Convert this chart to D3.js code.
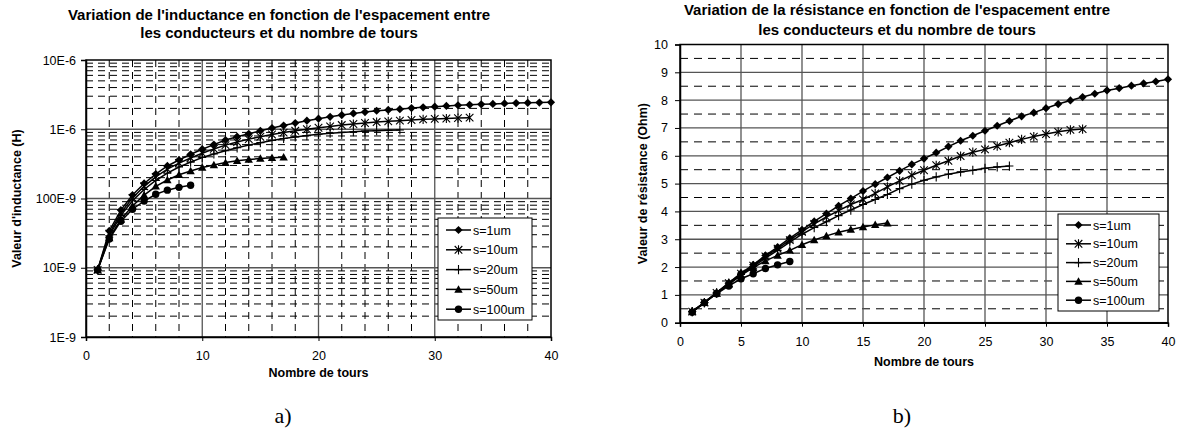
<!DOCTYPE html>
<html><head><meta charset="utf-8">
<script src="https://cdn.jsdelivr.net/npm/d3@7"></script>
<style>
body{margin:0;background:#fff}
svg{display:block}
text{font-family:"Liberation Sans",Arial,sans-serif;fill:#000}
</style>
</head><body>
<svg id="c" width="1180" height="430"></svg>
<script>
// ---------- DATA ----------
const turns = [1,2,3,4,5,6,7,8,9,10,11,12,13,14,15,16,17,18,19,20,21,22,23,24,25,26,27,28,29,30,31,32,33,34,35,36,37,38,39,40];
const seriesNames = ["s=1um","s=10um","s=20um","s=50um","s=100um"];
const markerTypes = ["diamond","star","plus","triangle","circle"];

// Inductance (H)
const ind_s1 = [9.3e-9,34e-9,68e-9,112e-9,165e-9,225e-9,295e-9,360e-9,435e-9,515e-9,600e-9,700e-9,780e-9,860e-9,950e-9,1.04e-6,1.13e-6,1.23e-6,1.33e-6,1.42e-6,1.51e-6,1.60e-6,1.69e-6,1.77e-6,1.85e-6,1.90e-6,1.95e-6,2.02e-6,2.07e-6,2.12e-6,2.17e-6,2.22e-6,2.25e-6,2.29e-6,2.32e-6,2.36e-6,2.39e-6,2.41e-6,2.43e-6,2.45e-6];
const ind_s10 = [9.3e-9,31e-9,62e-9,102e-9,150e-9,205e-9,265e-9,325e-9,385e-9,450e-9,520e-9,590e-9,655e-9,720e-9,780e-9,840e-9,895e-9,950e-9,1.0e-6,1.05e-6,1.10e-6,1.15e-6,1.19e-6,1.23e-6,1.27e-6,1.30e-6,1.33e-6,1.36e-6,1.39e-6,1.41e-6,1.43e-6,1.45e-6,1.47e-6];
const ind_s20 = [9.3e-9,29e-9,57e-9,93e-9,135e-9,182e-9,232e-9,285e-9,335e-9,390e-9,440e-9,490e-9,540e-9,590e-9,640e-9,690e-9,735e-9,775e-9,810e-9,845e-9,875e-9,900e-9,920e-9,940e-9,955e-9,965e-9,975e-9];
const ind_s50 = [9.3e-9,27e-9,50e-9,78e-9,112e-9,150e-9,185e-9,220e-9,250e-9,280e-9,305e-9,330e-9,350e-9,365e-9,378e-9,388e-9,395e-9];
const ind_s100 = [9.3e-9,26e-9,47e-9,70e-9,92e-9,115e-9,132e-9,145e-9,155e-9];

// Resistance (Ohm)
const res_s1 = [0.40,0.73,1.08,1.43,1.78,2.08,2.42,2.72,3.04,3.34,3.64,3.92,4.20,4.46,4.73,4.98,5.22,5.46,5.69,5.90,6.11,6.33,6.54,6.72,6.90,7.08,7.25,7.42,7.55,7.71,7.86,7.99,8.11,8.23,8.35,8.43,8.52,8.60,8.67,8.75];
const res_s10 = [0.40,0.72,1.07,1.42,1.76,2.05,2.38,2.66,2.97,3.27,3.55,3.80,4.03,4.25,4.43,4.65,4.88,5.10,5.30,5.48,5.66,5.82,5.99,6.13,6.23,6.35,6.47,6.59,6.69,6.78,6.86,6.93,6.96];
const res_s20 = [0.40,0.72,1.06,1.40,1.73,2.02,2.32,2.60,2.90,3.18,3.42,3.63,3.85,4.05,4.25,4.43,4.61,4.82,4.98,5.12,5.24,5.34,5.42,5.48,5.55,5.60,5.63];
const res_s50 = [0.40,0.72,1.05,1.38,1.70,1.98,2.22,2.42,2.60,2.80,2.97,3.12,3.25,3.35,3.44,3.52,3.58];
const res_s100 = [0.38,0.72,1.04,1.32,1.58,1.76,1.95,2.08,2.20];

// Axis ticks
const xTicksA = [0,10,20,30,40];
const yTicksA = [1e-9,10e-9,100e-9,1e-6,10e-6];
const yTickLabelsA = ["1E-9","10E-9","100E-9","1E-6","10E-6"];
const xTicksB = [0,5,10,15,20,25,30,35,40];
const yTicksB = [0,1,2,3,4,5,6,7,8,9,10];

const titleA = ["Variation de l'inductance en fonction de l'espacement entre","les conducteurs et du nombre de tours"];
const titleB = ["Variation de la résistance en fonction de l'espacement entre","les conducteurs et du nombre de tours"];

// ---------- DRAW ----------
const svg = d3.select("#c");

const markerPaths = {
  diamond: "M0,-4.1L4.1,0L0,4.1L-4.1,0Z",
  triangle: "M0,-4.2L4.2,3.3L-4.2,3.3Z",
  star: "M-3.8,-3.8L3.8,3.8M-3.8,3.8L3.8,-3.8M0,-4.6L0,4.6",
  plus: "M-4,0L4,0M0,-4.6L0,4.6"
};
function drawMarker(g, type){
  if(type==="circle"){ g.append("circle").attr("r",3.7).attr("fill","#000"); }
  else if(type==="star"||type==="plus"){ g.append("path").attr("d",markerPaths[type]).attr("fill","none").attr("stroke","#000").attr("stroke-width",1.1); }
  else { g.append("path").attr("d",markerPaths[type]).attr("fill","#000"); }
}

const FS = 12.5;

function drawChart(cfg){
  const {x0,x1,y0,y1,xScale,yScale} = cfg;
  const g = svg.append("g");
  cfg.minorY.forEach(v=>{
    g.append("line").attr("x1",x0).attr("x2",x1).attr("y1",yScale(v)).attr("y2",yScale(v))
      .attr("stroke","#000").attr("stroke-width",1).attr("stroke-dasharray",cfg.dash);
  });
  (cfg.minorX||[]).forEach(v=>{
    g.append("line").attr("y1",y1).attr("y2",y0).attr("x1",xScale(v)).attr("x2",xScale(v))
      .attr("stroke","#000").attr("stroke-width",1).attr("stroke-dasharray",cfg.dash);
  });
  cfg.majorY.forEach(v=>{
    g.append("line").attr("x1",x0).attr("x2",x1).attr("y1",yScale(v)).attr("y2",yScale(v))
      .attr("stroke","#555").attr("stroke-width",1.3);
  });
  cfg.majorX.forEach(v=>{
    g.append("line").attr("y1",y1).attr("y2",y0).attr("x1",xScale(v)).attr("x2",xScale(v))
      .attr("stroke","#555").attr("stroke-width",1.3);
  });
  g.append("rect").attr("x",x0).attr("y",y1).attr("width",x1-x0).attr("height",y0-y1)
    .attr("fill","none").attr("stroke","#000").attr("stroke-width",1.5);

  const xa = g.append("g").attr("transform",`translate(0,${y0})`)
    .call(d3.axisBottom(xScale).tickValues(cfg.xTicks).tickSize(4).tickPadding(cfg.xPad).tickFormat(d3.format("d")));
  const ya = g.append("g").attr("transform",`translate(${x0},0)`)
    .call(d3.axisLeft(yScale).tickValues(cfg.yTicks).tickSize(5).tickPadding(cfg.yPad).tickFormat(cfg.yFormat));
  [xa,ya].forEach(a=>{
    a.select(".domain").attr("stroke","#000").attr("stroke-width",1.5);
    a.selectAll(".tick line").attr("stroke","#000");
    a.selectAll("text").attr("font-size",FS).attr("font-family","Liberation Sans, Arial, sans-serif").attr("fill","#000");
  });

  const line = d3.line().x(d=>xScale(d[0])).y(d=>yScale(d[1]));
  cfg.series.forEach((vals,i)=>{
    const pts = vals.map((v,j)=>[turns[j],v]);
    g.append("path").attr("d",line(pts)).attr("fill","none").attr("stroke","#000").attr("stroke-width",1.5);
    pts.forEach(p=>{
      const m = g.append("g").attr("transform",`translate(${xScale(p[0])},${yScale(p[1])})`);
      drawMarker(m, markerTypes[i]);
    });
  });

  cfg.title.forEach((t,i)=>{
    svg.append("text").attr("x",cfg.titleX).attr("y",cfg.titleY+i*cfg.titleStep).attr("text-anchor","middle")
      .attr("font-size",15).attr("font-weight","bold").text(t);
  });
  svg.append("text").attr("x",(x0+x1)/2).attr("y",cfg.xLabelY).attr("text-anchor","middle")
    .attr("font-size",FS).attr("font-weight","bold").text("Nombre de tours");
  svg.append("text").attr("transform",`translate(${cfg.yLabelX},${(y0+y1)/2}) rotate(-90)`)
    .attr("text-anchor","middle").attr("font-size",FS).attr("font-weight","bold").text(cfg.yLabel);

  const L = cfg.legend;
  const lg = svg.append("g").attr("transform",`translate(${L.x},${L.y})`);
  lg.append("rect").attr("width",L.w).attr("height",L.h).attr("fill","#fff").attr("stroke","#000").attr("stroke-width",1);
  seriesNames.forEach((n,i)=>{
    const yy = L.pad + i*L.step;
    lg.append("line").attr("x1",8).attr("x2",33).attr("y1",yy).attr("y2",yy).attr("stroke","#000").attr("stroke-width",1.5);
    drawMarker(lg.append("g").attr("transform",`translate(20.5,${yy})`), markerTypes[i]);
    lg.append("text").attr("x",35).attr("y",yy+4.5).attr("font-size",FS).text(n);
  });

  svg.append("text").attr("x",cfg.capX).attr("y",423).attr("text-anchor","middle")
    .style("font-family","'Liberation Serif', 'Times New Roman', serif")
    .attr("font-size",22).text(cfg.caption);
}

// Chart a)
const xa0=86, xa1=551, ya0=337, ya1=60;
const xA = d3.scaleLinear().domain([0,40]).range([xa0,xa1]);
const yA = d3.scaleLog().domain([1e-9,10e-6]).range([ya0,ya1]);
const minorYA = [];
yTicksA.slice(0,4).forEach(d=>{ [2,3,4,5,6,7,8,9].forEach(k=>minorYA.push(d*k)); });
drawChart({
  x0:xa0,x1:xa1,y0:ya0,y1:ya1,xScale:xA,yScale:yA,
  minorY:minorYA, minorX:[2,4,6,8,12,14,16,18,22,24,26,28,32,34,36,38],
  majorY:yTicksA.slice(1,4), majorX:[10,20,30],
  dash:"7,5",
  xTicks:xTicksA, yTicks:yTicksA, yFormat:(d,i)=>yTickLabelsA[i], xPad:10, yPad:5,
  series:[ind_s1,ind_s10,ind_s20,ind_s50,ind_s100],
  title:titleA, titleX:279, titleY:20, titleStep:18.3,
  xLabelY:376.5,
  yLabel:"Valeur d'inductance (H)", yLabelX:21,
  legend:{x:438,y:218,w:94,h:102,pad:12,step:19.8},
  capX:283, caption:"a)"
});

// Chart b)
const xb0=680, xb1=1168, yb0=322.7, yb1=44.5;
const xB = d3.scaleLinear().domain([0,40]).range([xb0,xb1]);
const yB = d3.scaleLinear().domain([0,10]).range([yb0,yb1]);
drawChart({
  x0:xb0,x1:xb1,y0:yb0,y1:yb1,xScale:xB,yScale:yB,
  minorY:[0.5,1.5,2.5,3.5,4.5,5.5,6.5,7.5,8.5,9.5], minorX:[],
  majorY:[1,2,3,4,5,6,7,8,9], majorX:[5,10,15,20,25,30,35],
  dash:"8,6",
  xTicks:xTicksB, yTicks:yTicksB, yFormat:d3.format("d"), xPad:10, yPad:7,
  series:[res_s1,res_s10,res_s20,res_s50,res_s100],
  title:titleB, titleX:897, titleY:15, titleStep:20,
  xLabelY:366,
  yLabel:"Valeur de résistance (Ohm)", yLabelX:647,
  legend:{x:1058,y:214,w:101,h:97,pad:11,step:18.8},
  capX:902, caption:"b)"
});
</script>
</body></html>
